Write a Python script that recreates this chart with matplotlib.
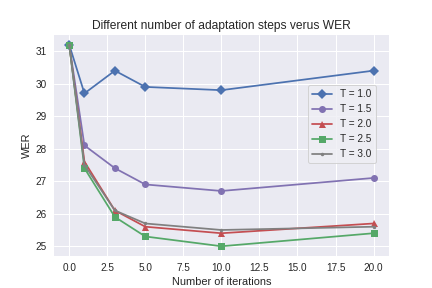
import numpy as np
from matplotlib import pyplot as plt

plt.style.use('seaborn-v0_8')
plt.rcParams['font.family'] = ['Liberation Sans', 'DejaVu Sans']

steps = [0, 1, 3, 5, 10, 20]
wer_t10 = [31.2, 29.7, 30.4, 29.9, 29.8, 30.4]
wer_t15 = [31.2, 28.1, 27.4, 26.9, 26.7, 27.1]
wer_t20 = [31.2, 27.6, 26.1, 25.6, 25.4, 25.7]
wer_t25 = [31.2, 27.4, 25.9, 25.3, 25.0, 25.4]
wer_t30 = [31.2, 27.5, 26.1, 25.7, 25.5, 25.6]

fig = plt.figure(figsize=(6, 4), dpi=72)
plt.plot(steps, wer_t10, marker='D', color='#4C72B0', label='T = 1.0')
plt.plot(steps, wer_t15, marker='o', color='#8172B2', label='T = 1.5')
plt.plot(steps, wer_t20, marker='^', color='#C44E52', label='T = 2.0')
plt.plot(steps, wer_t25, marker='s', color='#55A868', label='T = 2.5')
plt.plot(steps, wer_t30, marker='.', color='#808080', label='T = 3.0')

plt.title('Different number of adaptation steps verus WER')
plt.xlabel('Number of iterations')
plt.ylabel('WER')
leg = plt.legend(loc=(0.76, 0.42), frameon=True)
leg.get_frame().set_edgecolor('#CCCCCC')
leg.get_frame().set_facecolor('#EEEEF4')
leg.get_frame().set_linewidth(1.0)
plt.savefig('out.png', dpi=72)
